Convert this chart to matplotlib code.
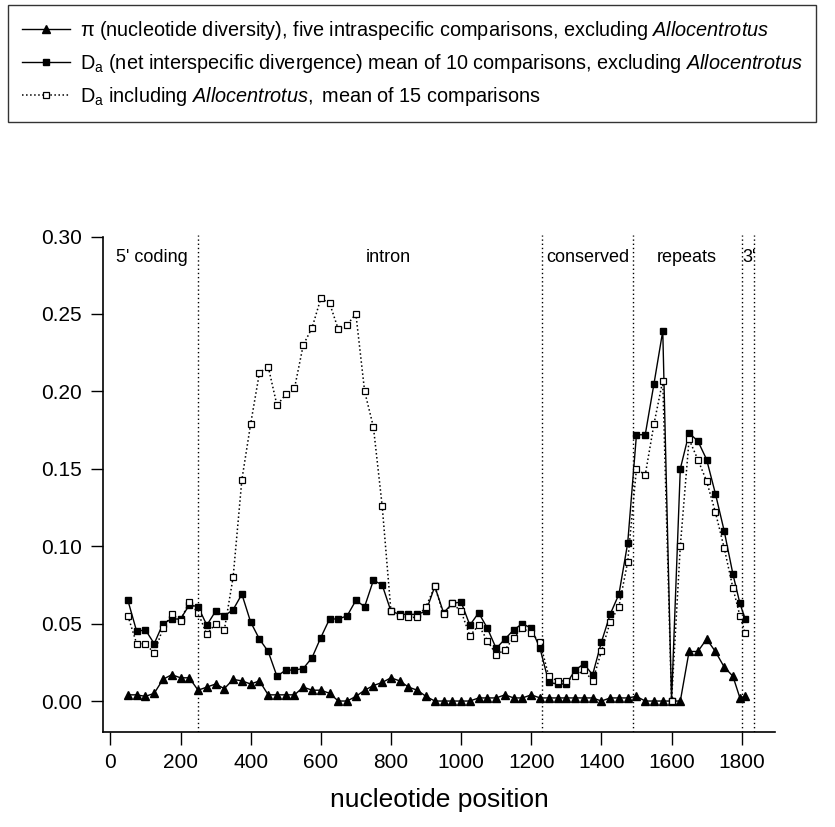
import matplotlib
matplotlib.use("Agg")
import matplotlib.pyplot as plt
import numpy as np

plt.rcParams['font.family'] = ['Liberation Sans', 'DejaVu Sans']
plt.rcParams['mathtext.fontset'] = 'custom'
plt.rcParams['mathtext.rm'] = 'Liberation Sans'
plt.rcParams['mathtext.it'] = 'Liberation Sans:italic'

# nucleotide positions (window midpoints)
positions = [50, 75, 100, 125, 150, 175, 200, 225, 250, 275, 300, 325, 350, 375,
             400, 425, 450, 475, 500, 525, 550, 575, 600, 625, 650, 675, 700, 725,
             750, 775, 800, 825, 850, 875, 900, 925, 950, 975, 1000, 1025, 1050,
             1075, 1100, 1125, 1150, 1175, 1200, 1225, 1250, 1275, 1300, 1325,
             1350, 1375, 1400, 1425, 1450, 1475, 1500, 1525, 1550, 1575, 1600,
             1625, 1650, 1675, 1700, 1725, 1750, 1775, 1795, 1810]

pi_div = [0.004, 0.004, 0.003, 0.005, 0.014, 0.017, 0.015, 0.015, 0.007, 0.009,
          0.011, 0.008, 0.014, 0.013, 0.011, 0.013, 0.004, 0.004, 0.004, 0.004,
          0.009, 0.007, 0.007, 0.005, 0.000, 0.000, 0.003, 0.007, 0.010, 0.012,
          0.015, 0.013, 0.009, 0.007, 0.003, 0.000, 0.000, 0.000, 0.000, 0.000,
          0.002, 0.002, 0.002, 0.004, 0.002, 0.002, 0.004, 0.002, 0.002, 0.002,
          0.002, 0.002, 0.002, 0.002, 0.000, 0.002, 0.002, 0.002, 0.003, 0.000,
          0.000, 0.000, 0.000, 0.000, 0.032, 0.032, 0.040, 0.032, 0.022, 0.016,
          0.002, 0.003]

da_excl = [0.065, 0.045, 0.046, 0.037, 0.050, 0.053, 0.053, 0.062, 0.061, 0.049,
           0.058, 0.055, 0.059, 0.069, 0.051, 0.040, 0.032, 0.016, 0.020, 0.020,
           0.021, 0.028, 0.041, 0.053, 0.053, 0.055, 0.065, 0.061, 0.078, 0.075,
           0.058, 0.056, 0.056, 0.056, 0.058, 0.074, 0.057, 0.063, 0.064, 0.049,
           0.057, 0.047, 0.034, 0.040, 0.046, 0.050, 0.047, 0.034, 0.012, 0.011,
           0.011, 0.020, 0.024, 0.017, 0.038, 0.056, 0.069, 0.102, 0.172, 0.172,
           0.205, 0.239, 0.000, 0.150, 0.173, 0.168, 0.156, 0.134, 0.110, 0.082,
           0.063, 0.053]

da_incl = [0.055, 0.037, 0.037, 0.031, 0.047, 0.056, 0.052, 0.064, 0.057, 0.043,
           0.050, 0.046, 0.080, 0.143, 0.179, 0.212, 0.216, 0.191, 0.198, 0.202,
           0.230, 0.241, 0.260, 0.257, 0.240, 0.243, 0.250, 0.200, 0.177, 0.126,
           0.058, 0.055, 0.054, 0.054, 0.061, 0.074, 0.056, 0.063, 0.058, 0.042,
           0.049, 0.039, 0.030, 0.033, 0.041, 0.047, 0.044, 0.038, 0.016, 0.013,
           0.013, 0.016, 0.020, 0.013, 0.032, 0.051, 0.061, 0.090, 0.150, 0.146,
           0.179, 0.207, 0.000, 0.100, 0.169, 0.156, 0.142, 0.122, 0.099, 0.073,
           0.055, 0.044]

region_bounds = [250, 1230, 1490, 1800, 1835]
region_labels = ["5' coding", "intron", "conserved", "repeats", "3'"]
region_label_x = [15, 793, 1243, 1642, 1803]
region_label_ha = ['left', 'center', 'left', 'center', 'left']

x_ticks = [0, 200, 400, 600, 800, 1000, 1200, 1400, 1600, 1800]
y_ticks = [0.00, 0.05, 0.10, 0.15, 0.20, 0.25, 0.30]

labels = [
    "π (nucleotide diversity), five intraspecific comparisons, excluding $\\mathit{Allocentrotus}$",
    "D$_\\mathrm{a}$ (net interspecific divergence) mean of 10 comparisons, excluding $\\mathit{Allocentrotus}$",
    "D$_\\mathrm{a}$ including $\\mathit{Allocentrotus,}$ mean of 15 comparisons",
]

fig = plt.figure(figsize=(8.35, 8.27), dpi=100)
W, H = 835, 827
ax = fig.add_axes([103 / W, (H - 732) / H, (775 - 103) / W, (732 - 235) / H])

l1, = ax.plot(positions, pi_div, '-', color='black', lw=1.0, marker='^',
              markersize=5.5, markerfacecolor='black', markeredgecolor='black')
l2, = ax.plot(positions, da_excl, '-', color='black', lw=1.0, marker='s',
              markersize=5, markerfacecolor='black', markeredgecolor='black')
l3, = ax.plot(positions, da_incl, ':', color='black', lw=1.1, marker='s',
              markersize=5, markerfacecolor='white', markeredgecolor='black',
              markeredgewidth=0.9)

for b in region_bounds:
    ax.axvline(b, color='black', lw=1.0, ls=(0, (1, 2)))

for lab, xx, ha in zip(region_labels, region_label_x, region_label_ha):
    ax.text(xx, 0.2865, lab, ha=ha, va='center', fontsize=13)

ax.set_xlim(-21, 1895)
ax.set_ylim(-0.020, 0.301)
ax.set_xticks(x_ticks)
ax.set_yticks(y_ticks)
ax.set_yticklabels([f"{v:.2f}" for v in y_ticks])
for s in ['top', 'right']:
    ax.spines[s].set_visible(False)
for s in ['left', 'bottom']:
    ax.spines[s].set_linewidth(1.2)
ax.spines['left'].set_bounds(-0.020, 0.300)
ax.tick_params(direction='out', length=9, width=1, labelsize=15, pad=6)
ax.set_xlabel("nucleotide position", fontsize=19, labelpad=12)

leg = fig.legend([l1, l2, l3], labels, loc='upper left',
                 bbox_to_anchor=(8 / W, 1 - 5 / H), fontsize=14.3,
                 frameon=True, fancybox=False, edgecolor='black',
                 handlelength=2.4, handletextpad=0.5, labelspacing=0.5,
                 borderpad=0.7, borderaxespad=0, numpoints=1)
leg.get_frame().set_linewidth(1.0)

fig.savefig("out.png", dpi=100)
